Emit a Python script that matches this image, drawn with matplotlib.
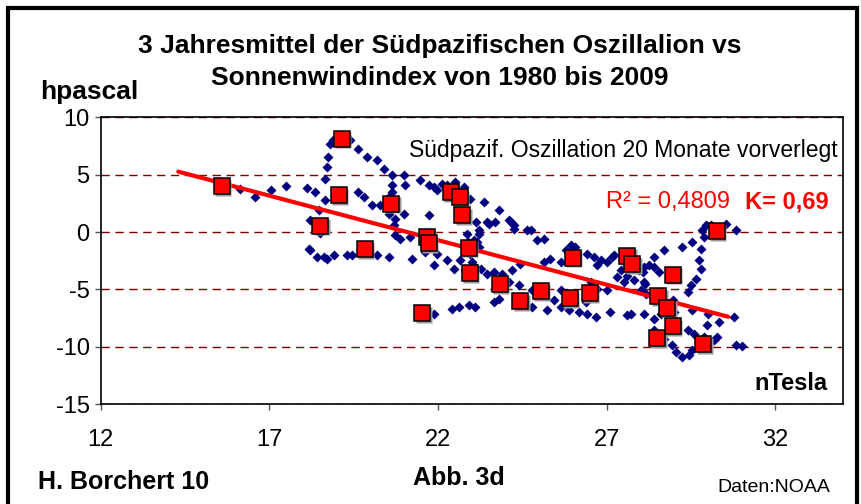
import matplotlib
matplotlib.use("Agg")
import matplotlib.pyplot as plt
from matplotlib.patches import Rectangle
from matplotlib.transforms import offset_copy

plt.rcParams['font.family'] = ['Liberation Sans', 'DejaVu Sans']
plt.rcParams['axes.unicode_minus'] = False

# 3-year running means, monthly (blue diamonds): solar wind index [nT] vs SOI [hPa]
blue_x = [16.13, 16.56, 17.04, 17.50, 18.11, 18.36, 18.66, 18.46,
          18.71, 18.66, 18.75, 18.80, 18.89, 19.40, 19.64, 19.89, 20.19, 20.39, 20.64, 20.98,
          21.03, 20.64, 20.64, 20.53, 20.53, 20.73, 20.98, 20.68, 20.73, 20.88, 21.18,
          19.64, 19.79, 20.04, 20.29, 21.47, 21.72, 21.97, 22.27, 22.51, 22.76, 21.72, 22.12, 21.87,
          22.96, 23.35, 23.80, 24.10, 24.24, 24.64, 24.94, 25.13, 23.11, 23.45, 23.70, 23.50,
          24.15, 24.24, 24.74, 23.20, 23.16, 23.20, 23.06, 23.20,
          18.16, 18.21, 18.41, 18.61, 18.71, 18.90, 19.30, 19.45, 20.19, 20.53, 21.23, 21.62,
          21.97, 21.87, 22.27, 22.46, 22.66, 18.21, 18.50,
          21.87, 22.42, 22.61, 22.91, 23.10, 23.65, 23.80,
          23.26, 23.45, 23.65, 23.90, 24.20, 24.10, 24.39, 24.44, 24.79, 24.94, 25.13, 25.33,
          25.63, 25.93, 26.07, 25.78, 26.42, 26.62, 26.72, 26.82, 27.01, 27.16, 27.21, 27.56,
          25.63, 25.43, 25.63, 25.88, 26.17, 26.42, 26.67, 27.01, 27.11, 27.61, 25.23, 24.79,
          26.37, 26.52, 26.72, 27.41, 27.31, 27.50, 27.80, 28.10,
          27.61, 27.80, 28.07, 28.10, 28.25, 28.40, 28.69, 28.55, 28.00, 28.15, 27.71, 28.10,
          28.40, 28.75, 28.96, 29.24, 29.54, 29.79, 29.73, 29.79, 29.64, 29.49, 29.40, 29.54,
          29.89, 29.83, 29.93, 30.10, 30.52, 30.82, 30.00, 29.98, 30.33, 29.88, 29.58, 29.40,
          29.09, 30.28, 30.77, 30.82, 28.94, 29.04, 29.24, 29.44, 29.54, 28.69, 28.40, 30.18,
          28.99, 28.60, 28.37, 27.97, 28.12, 28.40,
          22.85, 22.90, 22.95, 23.00, 23.10, 22.80, 31.00]
blue_y = [3.72, 3.05, 3.64, 3.98, 3.84, 3.49, 2.76, 1.89,
          5.67, 4.66, 6.54, 7.71, 8.00, 8.00, 7.27, 6.54, 6.25, 5.53, 4.94, 4.94,
          4.07, 4.07, 3.49, 3.05, 1.60, 1.17, 1.60, 0.58, -0.29, -0.58, -0.44,
          3.49, 3.05, 2.33, 2.33, 4.51, 4.07, 3.64, 4.07, 4.36, 3.92, 1.46, 4.22, 3.92,
          2.91, 2.62, 1.89, 1.02, 0.58, 0.15, -0.72, -0.58, 0.87, 0.87, 0.87, 0.73,
          0.87, 0.30, 0.15, 0.15, -0.87, -0.14, -0.72, -1.31,
          -1.45, -1.60, -2.18, -2.18, -2.32, -2.03, -2.03, -2.03, -2.03, -2.18, -2.32, -1.74,
          -1.88, -2.90, -2.47, -3.19, -2.47, 1.02, -0.11,
          -7.11, -6.68, -6.54, -6.39, -6.50, -6.10, -5.81,
          -3.19, -3.63, -3.49, -3.63, -3.34, -4.36, -4.65, -2.76, -5.08, -4.93, -2.62, -2.32,
          -2.62, -1.16, -1.31, -1.60, -1.88, -2.18, -2.90, -2.47, -2.62, -2.18, -2.03, -2.18,
          -5.08, -5.95, -6.54, -6.83, -6.97, -7.11, -7.41, -5.08, -6.97, -7.26, -6.83, -6.54,
          -6.10, -4.36, -4.93, -3.34, -3.92, -4.36, -2.62, -3.05,
          -3.78, -4.21, -3.49, -4.36, -2.90, -2.18, -1.60, -3.49, -5.08, -5.37, -7.11, -7.11,
          -7.55, -6.97, -5.95, -1.31, -0.87, -1.45, -2.47, -3.19, -4.06, -4.65, -5.23, -6.83,
          -0.44, 0.15, 0.58, 0.58, 0.73, 0.15, -7.11, -8.13, -7.85, -9.15, -8.86, -8.57,
          -8.42, -9.15, -7.41, -9.88, -9.88, -10.46, -10.90, -10.75, -10.31, -9.29, -8.57, -9.44,
          -6.97, -7.11, -5.67, -3.34, -4.50, -3.05,
          -0.20, -0.90, -1.90, -2.60, -3.00, -3.30, -9.90]

# yearly values (red squares)
year_x = [15.59, 18.51, 19.05, 19.15, 19.82, 20.61, 21.53, 21.67, 21.72, 22.37,
          22.64, 22.71, 22.91, 22.94, 23.83, 24.44, 25.04, 25.90, 25.99, 26.50,
          27.60, 27.76, 28.50, 28.52, 28.80, 28.96, 28.96, 29.86, 30.26]
year_y = [4.01, 0.55, 3.20, 8.14, -1.51, 2.48, -7.06, -0.43, -0.95, 3.49,
          3.05, 1.46, -1.36, -3.57, -4.56, -6.02, -5.17, -5.75, -2.23, -5.32,
          -2.07, -2.82, -9.24, -5.61, -6.59, -3.72, -8.22, -9.79, 0.06]

# linear trend
trend_slope = -0.776
trend_icpt = 16.37
trend_x = [14.3, 30.6]

x_ticks = [12, 17, 22, 27, 32]
y_ticks = [-15, -10, -5, 0, 5, 10]

fig = plt.figure(figsize=(8.61, 5.04), dpi=100)
ax = fig.add_axes([0.117, 0.198, 0.862, 0.569])

ax.plot(blue_x, blue_y, 'D', color='#000080', ms=5.6, mec='none', zorder=3)
trend_y = [trend_slope * x + trend_icpt for x in trend_x]
ax.plot(trend_x, trend_y, color='#FF0000', lw=3, solid_capstyle='round', zorder=4)
shadow = offset_copy(ax.transData, fig=fig, x=1.5, y=-1.5, units='dots')
ax.plot(year_x, year_y, 's', color='#9a9a9a', ms=11.5, mec='none', transform=shadow, zorder=5)
ax.plot(year_x, year_y, 's', mfc='#FF0000', mec='black', mew=1.1, ms=11.5, zorder=6)

ax.set_xlim(12, 34)
ax.set_ylim(-15, 10)
ax.set_xticks(x_ticks)
ax.set_yticks(y_ticks)
ax.yaxis.grid(True, color='#800000', ls=(0, (6, 4)), lw=1)
ax.set_axisbelow(True)
for s in ax.spines.values():
    s.set_linewidth(1.2)
ax.tick_params(axis='both', direction='out', length=4, width=1, color='#555555',
               labelsize=17)
ax.tick_params(axis='x', pad=14)
ax.tick_params(axis='y', pad=4)

W, H = 861, 504
fig.text(440 / W, 1 - 46 / H, '3 Jahresmittel der Südpazifischen Oszillalion vs',
         ha='center', va='center', fontsize=19, weight='bold')
fig.text(440 / W, 1 - 78 / H, 'Sonnenwindindex von 1980 bis 2009',
         ha='center', va='center', fontsize=19, weight='bold')
fig.text(40 / W, 1 - 92 / H, 'hpascal', ha='left', va='center', fontsize=19, weight='bold')
fig.text(838 / W, 1 - 151 / H, 'Südpazif. Oszillation 20 Monate vorverlegt',
         ha='right', va='center', fontsize=16.5)
fig.text(606 / W, 1 - 202 / H, 'R² = 0,4809', ha='left', va='center', fontsize=17,
         color='#FF0000')
fig.text(829 / W, 1 - 202 / H, 'K= 0,69', ha='right', va='center', fontsize=17,
         color='#FF0000', weight='bold')
fig.text(828 / W, 1 - 383 / H, 'nTesla', ha='right', va='center', fontsize=17, weight='bold')
fig.text(38 / W, 1 - 482 / H, 'H. Borchert 10', ha='left', va='center', fontsize=18,
         weight='bold')
fig.text(459 / W, 1 - 478 / H, 'Abb. 3d', ha='center', va='center', fontsize=18,
         weight='bold')
fig.text(830 / W, 1 - 488 / H, 'Daten:NOAA', ha='right', va='center', fontsize=14)

# outer chart frame
fig.patches.append(Rectangle((8 / W, -0.05), (857 - 8) / W, 1.05 - 8 / H,
                             transform=fig.transFigure, fill=False, lw=3,
                             edgecolor='black', clip_on=False))

fig.savefig('out.png', dpi=100)
